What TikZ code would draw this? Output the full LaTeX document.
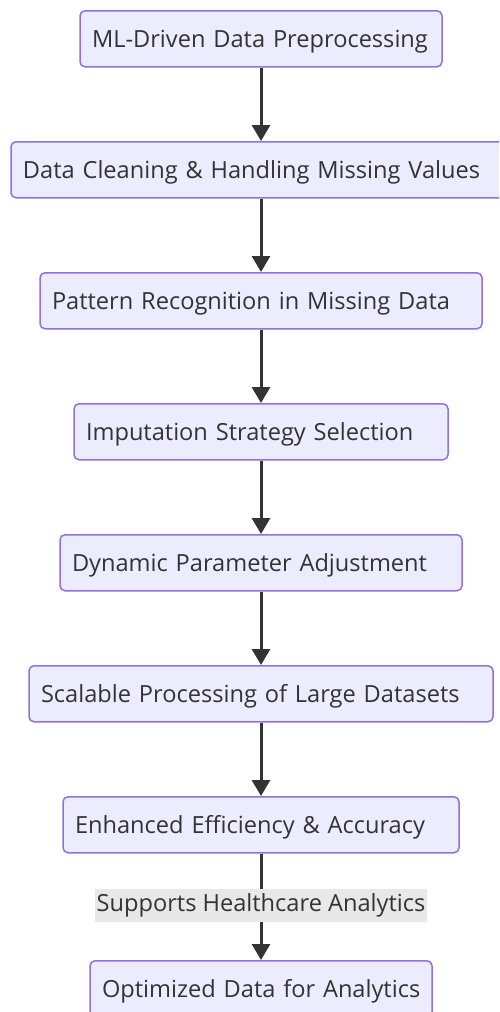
\documentclass[tikz,border=0pt]{standalone}
\usepackage{fontspec}
\setmainfont{Open Sans}
\usetikzlibrary{arrows.meta}
\definecolor{boxfill}{HTML}{ECECFF}
\definecolor{boxline}{HTML}{9370DB}
\definecolor{ink}{HTML}{333333}
\definecolor{lblbg}{HTML}{E8E8E8}
\tikzset{
  flowbox/.style={draw=boxline, fill=boxfill, line width=1.5pt, rounded corners=5pt,
    minimum height=56pt, inner xsep=12pt, inner ysep=0pt, align=left, text=ink,
    text height=20pt, text depth=3pt,
    font=\fontsize{23.6}{28}\selectfont, anchor=north},
  flowarrow/.style={draw=ink, line width=3pt, -{Triangle[width=18pt,length=16pt]}},
  edgelabel/.style={fill=lblbg, text=ink, inner xsep=1.5pt, inner ysep=0pt, minimum height=33pt,
    font=\fontsize{23.6}{28}\selectfont}
}
\begin{document}
\begin{tikzpicture}[x=1pt,y=-1pt]
\clip (0,0) rectangle (499,1012);
\fill[white] (0,0) rectangle (499,1012);
\node[flowbox, text width=338pt] (A) at (261,10) {\mbox{ML-Driven Data Preprocessing}};
\node[flowbox, text width=476pt] (B) at (261,141) {\mbox{Data Cleaning \& Handling Missing Values}};
\node[flowbox, text width=418pt] (C) at (261,272) {\mbox{Pattern Recognition in Missing Data}};
\node[flowbox, text width=350pt] (D) at (261,403) {\mbox{Imputation Strategy Selection}};
\node[flowbox, text width=378pt] (E) at (261,534) {\mbox{Dynamic Parameter Adjustment}};
\node[flowbox, text width=440pt] (F) at (261,665) {\mbox{Scalable Processing of Large Datasets}};
\node[flowbox, text width=372pt] (G) at (261,796) {\mbox{Enhanced Efficiency \& Accuracy}};
\node[flowbox, text width=318pt] (H) at (261,960) {\mbox{Optimized Data for Analytics}};
\draw[flowarrow] (A.south) -- (B.north);
\draw[flowarrow] (B.south) -- (C.north);
\draw[flowarrow] (C.south) -- (D.north);
\draw[flowarrow] (D.south) -- (E.north);
\draw[flowarrow] (E.south) -- (F.north);
\draw[flowarrow] (F.south) -- (G.north);
\draw[flowarrow] (G.south) -- (H.north);
\node[edgelabel] (L) at (261,905.5) {Supports Healthcare Analytics};
\end{tikzpicture}
\end{document}
